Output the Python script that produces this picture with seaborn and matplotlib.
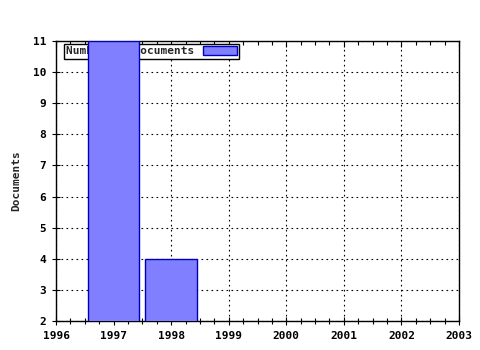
import matplotlib
matplotlib.use("Agg")
import matplotlib.pyplot as plt
import matplotlib.lines as mlines
import seaborn as sns
import pandas as pd
from matplotlib.ticker import MultipleLocator

years = [1997, 1998]
documents = [11, 4]
series_label = "Number of documents"
y_label = "Documents"

sns.set_style("white")
plt.rcParams['font.family'] = ['DejaVu Sans Mono']
plt.rcParams['font.weight'] = 'bold'

df = pd.DataFrame({"year": years, "docs": documents})

fig = plt.figure(figsize=(4.8, 3.5), dpi=100)
ax = fig.add_axes([56/480, 29/350, 403/480, 280/350])

sns.barplot(data=df, x="year", y="docs", native_scale=True, width=0.9,
            color="#7f7fff", saturation=1, edgecolor="#0000bb", linewidth=1,
            label=series_label, ax=ax, zorder=3)

ax.set_xlim(1996, 2003)
ax.set_ylim(2, 11)
ax.xaxis.set_major_locator(MultipleLocator(1))
ax.xaxis.set_minor_locator(MultipleLocator(0.25))
ax.yaxis.set_major_locator(MultipleLocator(1))
ax.set_xticklabels([str(int(v)) for v in ax.get_xticks()])
ax.grid(True, which="major", color="black", linestyle=(0, (1.5, 3)), linewidth=0.8, zorder=0)
ax.set_axisbelow(True)

for s in ax.spines.values():
    s.set_color("black")
    s.set_linewidth(1)

ax.tick_params(axis="x", which="both", direction="inout", bottom=True, top=True,
               length=6, width=0.8, colors="black", labelsize=8, pad=4)
ax.tick_params(axis="x", which="minor", length=4)
ax.tick_params(axis="y", which="major", direction="inout", left=True, right=False,
               length=6, width=0.8, colors="black", labelsize=8, pad=4)
for t in ax.xaxis.get_major_ticks():
    t.tick2line.set_marker(mlines.TICKDOWN)
    t.tick2line.set_markersize(4)
for t in ax.xaxis.get_minor_ticks():
    t.tick2line.set_marker(mlines.TICKDOWN)
    t.tick2line.set_markersize(3)
for lbl in ax.get_xticklabels() + ax.get_yticklabels():
    lbl.set_fontweight("bold")

ax.set_xlabel("")
ax.set_ylabel(y_label, fontsize=8, fontweight="bold", labelpad=8)

leg = ax.legend(loc="upper left", bbox_to_anchor=(8/403, 1 - 3/280), borderaxespad=0,
                markerfirst=False, fancybox=False, framealpha=1, edgecolor="black",
                prop={"size": 8, "weight": "bold"}, handlelength=3, handleheight=0.8,
                borderpad=0.2, handletextpad=0.8)
leg.get_frame().set_linewidth(1)
leg.set_zorder(2)

fig.savefig("out.png", dpi=100)
